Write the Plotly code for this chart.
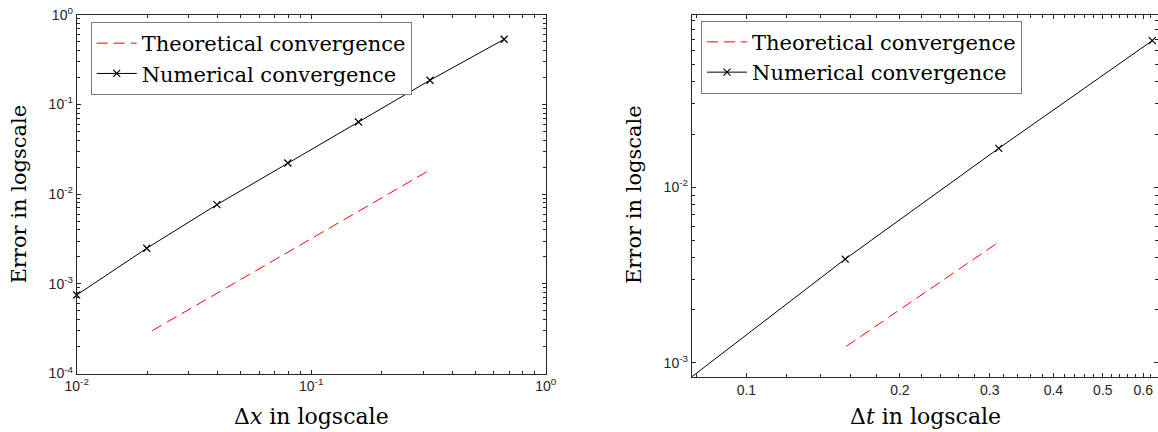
import math
import plotly.graph_objects as go

# ---------------- data ----------------
left_dx = [0.0100, 0.0199, 0.0396, 0.0795, 0.159, 0.321, 0.665]
left_err = [7.5e-4, 2.49e-3, 7.62e-3, 0.0222, 0.0637, 0.186, 0.532]
left_theo_dx = [0.0210, 0.321]
left_theo_err = [3.0e-4, 0.0186]

right_dt = [0.078125, 0.15625, 0.3125, 0.625]
right_err = [8.3e-4, 3.9e-3, 0.0167, 0.0687]
right_theo_dt = [0.157, 0.3125]
right_theo_err = [1.24e-3, 4.88e-3]

left_x_tickvals = [0.01, 0.1, 1]
left_x_ticktext = ["10<sup>-2</sup>", "10<sup>-1</sup>", "10<sup>0</sup>"]
left_y_tickvals = [1e-4, 1e-3, 1e-2, 1e-1, 1]
left_y_ticktext = ["10<sup>-4</sup>", "10<sup>-3</sup>", "10<sup>-2</sup>", "10<sup>-1</sup>", "10<sup>0</sup>"]
right_x_tickvals = [0.1, 0.2, 0.3, 0.4, 0.5, 0.6]
right_x_ticktext = ["0.1", "0.2", "0.3", "0.4", "0.5", "0.6"]
right_y_tickvals = [1e-3, 1e-2]
right_y_ticktext = ["10<sup>-3</sup>", "10<sup>-2</sup>"]

theo_name = "Theoretical convergence"
num_name = "Numerical convergence"
left_xtitle = "Δ<i>x</i> in logscale"
right_xtitle = "Δ<i>t</i> in logscale"
ytitle = "Error in logscale"

# ---------------- helpers ----------------
def decade_minors(lo_exp, hi_exp):
    vals = []
    for e in range(lo_exp, hi_exp):
        for m in range(2, 10):
            vals.append(m * 10.0 ** e)
    return vals

right_x_minor = [round(0.08 + 0.02 * i, 2) for i in range(0, 28)]
right_x_minor = [v for v in right_x_minor if round(v * 10, 6) != round(v * 10)]

W, H = 1158, 432
AX = "#262626"
TICKFONT = dict(family="Liberation Sans, Arial, sans-serif", size=14, color=AX)
SERIF = "DejaVu Serif, serif"

fig = go.Figure()

fig.add_trace(go.Scatter(x=left_theo_dx, y=left_theo_err, mode="lines", name=theo_name,
                         line=dict(color="#ff0000", width=1, dash="11px,6px"),
                         xaxis="x", yaxis="y", legend="legend"))
fig.add_trace(go.Scatter(x=left_dx, y=left_err, mode="lines+markers", name=num_name,
                         line=dict(color="black", width=1),
                         marker=dict(symbol="x-thin", size=7, line=dict(color="black", width=1.2)),
                         xaxis="x", yaxis="y", legend="legend", cliponaxis=False))
fig.add_trace(go.Scatter(x=right_theo_dt, y=right_theo_err, mode="lines", name=theo_name,
                         line=dict(color="#ff0000", width=1, dash="11px,6px"),
                         xaxis="x2", yaxis="y2", legend="legend2"))
fig.add_trace(go.Scatter(x=right_dt, y=right_err, mode="lines+markers", name=num_name,
                         line=dict(color="black", width=1),
                         marker=dict(symbol="x-thin", size=7, line=dict(color="black", width=1.2)),
                         xaxis="x2", yaxis="y2", legend="legend2", cliponaxis=False))

def axis_style(domain, rng, tickvals, ticktext, minor_vals, anchor):
    return dict(type="log", domain=domain, range=rng, anchor=anchor,
                tickmode="array", tickvals=tickvals, ticktext=ticktext,
                ticks="inside", ticklen=4, tickwidth=1, tickcolor=AX,
                minor=dict(tickmode="array", tickvals=minor_vals, ticks="inside",
                           ticklen=3, tickwidth=1, tickcolor=AX, showgrid=False),
                showline=True, linecolor=AX, linewidth=1, mirror="allticks",
                showgrid=False, zeroline=False, tickfont=TICKFONT, automargin=False)

legend_common = dict(xanchor="left", yanchor="top", bgcolor="white",
                     bordercolor="#7a7a7a", borderwidth=1, itemwidth=40,
                     font=dict(family=SERIF, size=21, color="black"))

fig.update_layout(
    width=W, height=H,
    margin=dict(l=0, r=0, t=0, b=0),
    paper_bgcolor="white", plot_bgcolor="white",
    xaxis=axis_style([76.7 / W, 545.7 / W], [-2, 0], left_x_tickvals, left_x_ticktext,
                     decade_minors(-2, 0), "y"),
    yaxis=axis_style([1 - 373.5 / H, 1 - 14.7 / H], [-4, 0], left_y_tickvals, left_y_ticktext,
                     decade_minors(-4, 0), "x"),
    xaxis2=axis_style([691.7 / W, 1157.5 / W], [math.log10(0.078125), math.log10(0.64)],
                      right_x_tickvals, right_x_ticktext, right_x_minor, "y2"),
    yaxis2=axis_style([1 - 376.7 / H, 1 - 14.7 / H], [math.log10(8.32e-4), math.log10(0.0966)],
                      right_y_tickvals, right_y_ticktext, decade_minors(-3, -1), "x2"),
    legend=dict(x=90.7 / W, y=1 - 22 / H, **legend_common),
    legend2=dict(x=701 / W, y=1 - 20.7 / H, **legend_common),
    showlegend=True,
)

xtitle_font = dict(family=SERIF, size=22, color="black")
ytitle_font = dict(family=SERIF, size=21, color="black")
fig.add_annotation(text=left_xtitle, xref="paper", yref="paper", x=311.2 / W, y=1 - 416 / H,
                   xanchor="center", yanchor="middle", showarrow=False, font=xtitle_font)
fig.add_annotation(text=right_xtitle, xref="paper", yref="paper", x=925 / W, y=1 - 416 / H,
                   xanchor="center", yanchor="middle", showarrow=False, font=xtitle_font)
fig.add_annotation(text=ytitle, xref="paper", yref="paper", x=18.5 / W, y=1 - 194 / H,
                   xanchor="center", yanchor="middle", textangle=-90, showarrow=False, font=ytitle_font)
fig.add_annotation(text=ytitle, xref="paper", yref="paper", x=634 / W, y=1 - 195 / H,
                   xanchor="center", yanchor="middle", textangle=-90, showarrow=False, font=ytitle_font)

fig.write_html("out.html", config={"displayModeBar": False},
               post_script="document.body.style.margin='0';document.body.style.overflow='hidden';")
